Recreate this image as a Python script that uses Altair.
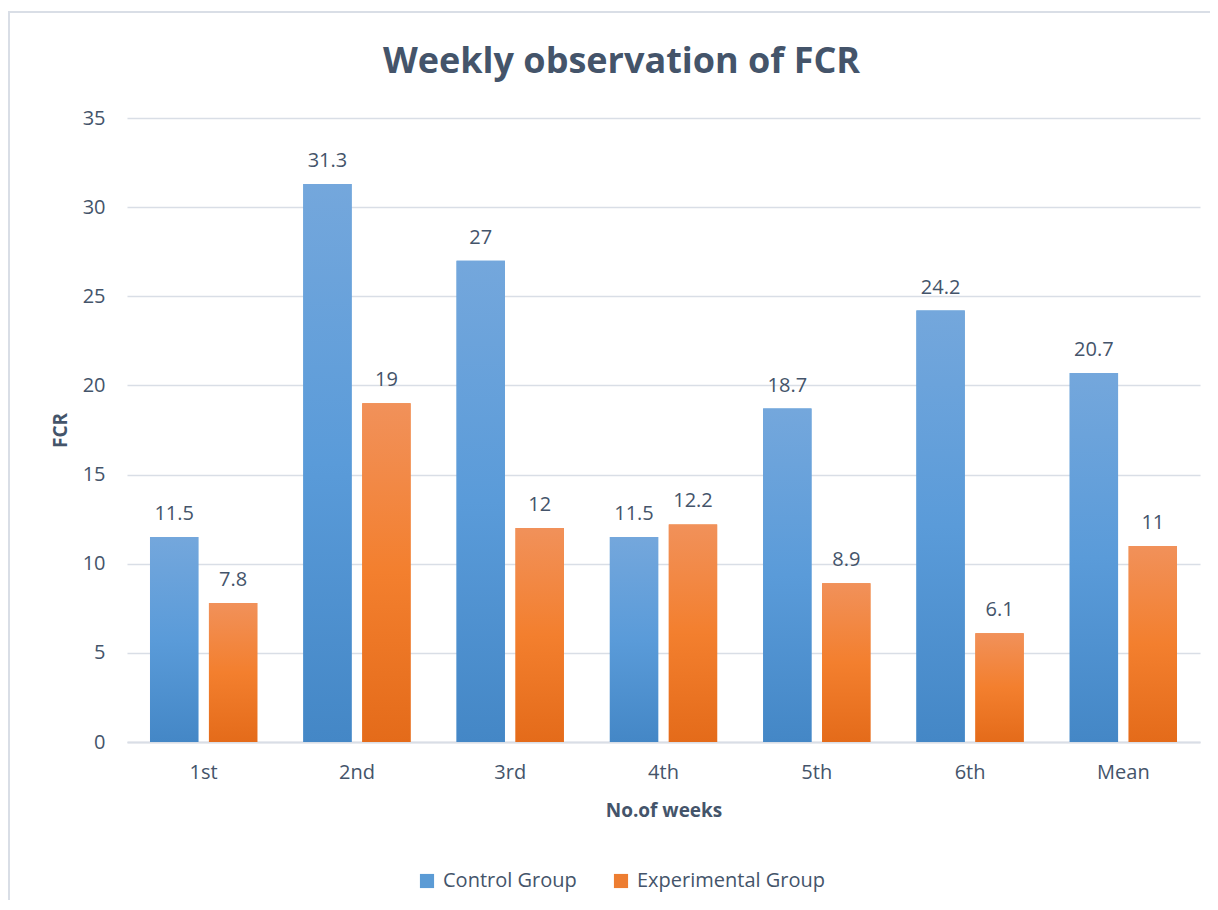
import altair as alt
import pandas as pd

weeks = ["1st", "2nd", "3rd", "4th", "5th", "6th", "Mean"]
control = [11.5, 31.3, 27, 11.5, 18.7, 24.2, 20.7]
experimental = [7.8, 19, 12, 12.2, 8.9, 6.1, 11]
groups = ["Control Group", "Experimental Group"]

TEXT = "#44546A"
FONT = "Open Sans"

rows = []
for w, c, e in zip(weeks, control, experimental):
    rows.append({"week": w, "group": groups[0], "value": c})
    rows.append({"week": w, "group": groups[1], "value": e})
df = pd.DataFrame(rows)

x_enc = alt.X("week:N", sort=weeks,
              scale=alt.Scale(paddingInner=0, paddingOuter=0),
              axis=alt.Axis(title="No.of weeks", labelAngle=0, labelFontSize=20,
                            labelColor=TEXT, labelFont=FONT, labelPadding=20,
                            ticks=False, domainColor="#D9DEE6", domainWidth=2,
                            titleFontSize=19, titleFont=FONT, titleFontWeight="bold",
                            titleColor=TEXT, titlePadding=19, grid=False))
xo_enc = alt.XOffset("group:N", sort=groups,
                     scale=alt.Scale(domain=groups, paddingInner=0.18, paddingOuter=0.39))
y_enc = alt.Y("value:Q",
              scale=alt.Scale(domain=[0, 35], nice=False),
              axis=alt.Axis(title="FCR", values=[0, 5, 10, 15, 20, 25, 30, 35],
                            labelFontSize=20, labelColor=TEXT, labelFont=FONT,
                            labelPadding=22, ticks=False, domain=False,
                            gridColor="#D9DEE6", gridWidth=1.5,
                            titleFontSize=19, titleFont=FONT, titleFontWeight="bold",
                            titleColor=TEXT, titlePadding=12))

base = alt.Chart(df)

legend_bars = base.mark_bar().encode(
    x=x_enc, xOffset=xo_enc, y=y_enc,
    color=alt.Color("group:N", sort=groups,
                    scale=alt.Scale(domain=groups, range=["#5B9BD5", "#ED7D31"]),
                    legend=alt.Legend(title=None, orient="none", direction="horizontal",
                                      legendX=290, legendY=753,
                                      symbolType="square", symbolSize=200,
                                      symbolStrokeWidth=0, labelLimit=0,
                                      labelFontSize=20, labelFont=FONT, labelColor=TEXT,
                                      columnPadding=34, labelOffset=6))
)

grad_blue = alt.Gradient(gradient="linear", x1=0, x2=0, y1=0, y2=1,
                         stops=[alt.GradientStop(color="#74A7DC", offset=0),
                                alt.GradientStop(color="#5A9BD9", offset=0.5),
                                alt.GradientStop(color="#4487C6", offset=1)])
grad_orange = alt.Gradient(gradient="linear", x1=0, x2=0, y1=0, y2=1,
                           stops=[alt.GradientStop(color="#F1915A", offset=0),
                                  alt.GradientStop(color="#F37F2E", offset=0.5),
                                  alt.GradientStop(color="#E46B1A", offset=1)])

blue_bars = base.transform_filter(alt.datum.group == groups[0]).mark_bar(
    color=grad_blue).encode(x=x_enc, xOffset=xo_enc, y=y_enc)
orange_bars = base.transform_filter(alt.datum.group == groups[1]).mark_bar(
    color=grad_orange).encode(x=x_enc, xOffset=xo_enc, y=y_enc)

labels = base.mark_text(baseline="bottom", dy=-13, fontSize=20, font=FONT,
                        color=TEXT).encode(
    x=x_enc, xOffset=xo_enc, y=y_enc, text=alt.Text("value:Q"))

border = alt.Chart(pd.DataFrame({"a": [0]})).mark_rect(
    filled=False, stroke="#D9DEE6", strokeWidth=2).encode(
    x=alt.value(-118), x2=alt.value(1300), y=alt.value(-106), y2=alt.value(1000))

chart = alt.layer(border, legend_bars, blue_bars, orange_bars, labels).properties(
    width=1073, height=624,
    autosize=alt.AutoSizeParams(type="none"),
    padding={"left": 119, "top": 110, "right": 10, "bottom": 158},
    title=alt.TitleParams("Weekly observation of FCR", fontSize=36, font=FONT,
                          fontWeight="bold", color=TEXT, anchor="middle",
                          frame="group", dx=-42, offset=-70),
).configure_view(stroke=None)

chart.save("out.html", embed_options={"renderer": "svg", "actions": False})
